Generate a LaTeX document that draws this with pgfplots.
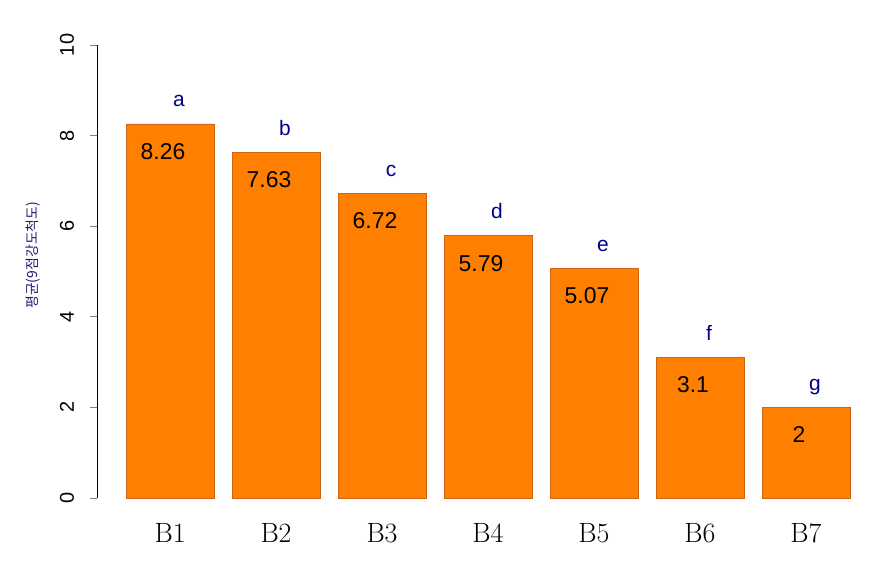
\documentclass[border=0pt]{standalone}
\usepackage{fontspec}
\usepackage{pgfplots}
\usepackage{pgfplotstable}
\pgfplotsset{compat=1.18}
\newfontfamily\arial{Liberation Sans}
\newfontfamily\kr{Noto Sans CJK KR}
\definecolor{barfill}{RGB}{255,127,0}
\definecolor{barline}{RGB}{205,102,20}
\definecolor{letcol}{RGB}{0,0,139}
\definecolor{ylabcol}{RGB}{45,20,115}
\pgfplotstableread{
x val vlab let
0 8.26 8.26 a
1 7.63 7.63 b
2 6.72 6.72 c
3 5.79 5.79 d
4 5.07 5.07 e
5 3.1 3.1 f
6 2 2 g
}\data
\begin{document}
\begin{tikzpicture}
\useasboundingbox (-97bp,-70bp) rectangle (788bp,498bp);
\begin{axis}[
  at={(0,0)}, anchor=south west,
  scale only axis,
  width=762bp, height=453bp,
  xmin=-0.689, xmax=6.5,
  ymin=0, ymax=10,
  axis y line*=left,
  axis x line*=bottom,
  x axis line style={draw=none},
  y axis line style={line width=0.8pt},
  xtick={0,...,6},
  xticklabels={B1,B2,B3,B4,B5,B6,B7},
  major x tick style={draw=none},
  xticklabel style={font=\fontsize{28}{28}\selectfont, anchor=base, yshift=-44bp},
  ytick={0,2,...,10},
  ytick align=outside,
  major y tick style={line width=0.8pt},
  major tick length=7bp,
  /pgf/number format/assume math mode=true,
  yticklabel style={font=\arial\fontsize{20}{20}\selectfont, rotate=90, anchor=base, yshift=16bp},
  ylabel={\kr 평균(9점강도척도)},
  ylabel style={at={(rel axis cs:0,0.536)}, anchor=center, yshift=64bp, font=\fontsize{14}{14}\selectfont, color=ylabcol},
  clip=false,
]
\addplot[ybar, bar shift=0pt, bar width=88bp, fill=barfill, draw=barline, line width=0.6pt,
  nodes near coords, point meta=explicit symbolic,
  every node near coord/.append style={font=\arial\fontsize{23}{23}\selectfont, color=black, anchor=north, inner sep=0pt, xshift=-7bp, yshift=-19bp}]
  table[x=x, y=val, meta=vlab] {\data};
\addplot[draw=none, mark=none,
  nodes near coords, point meta=explicit symbolic,
  every node near coord/.append style={font=\arial\fontsize{21}{21}\selectfont, color=letcol, anchor=base, inner sep=0pt, xshift=9bp, yshift=17bp}]
  table[x=x, y=val, meta=let] {\data};
\end{axis}
\end{tikzpicture}
\end{document}
